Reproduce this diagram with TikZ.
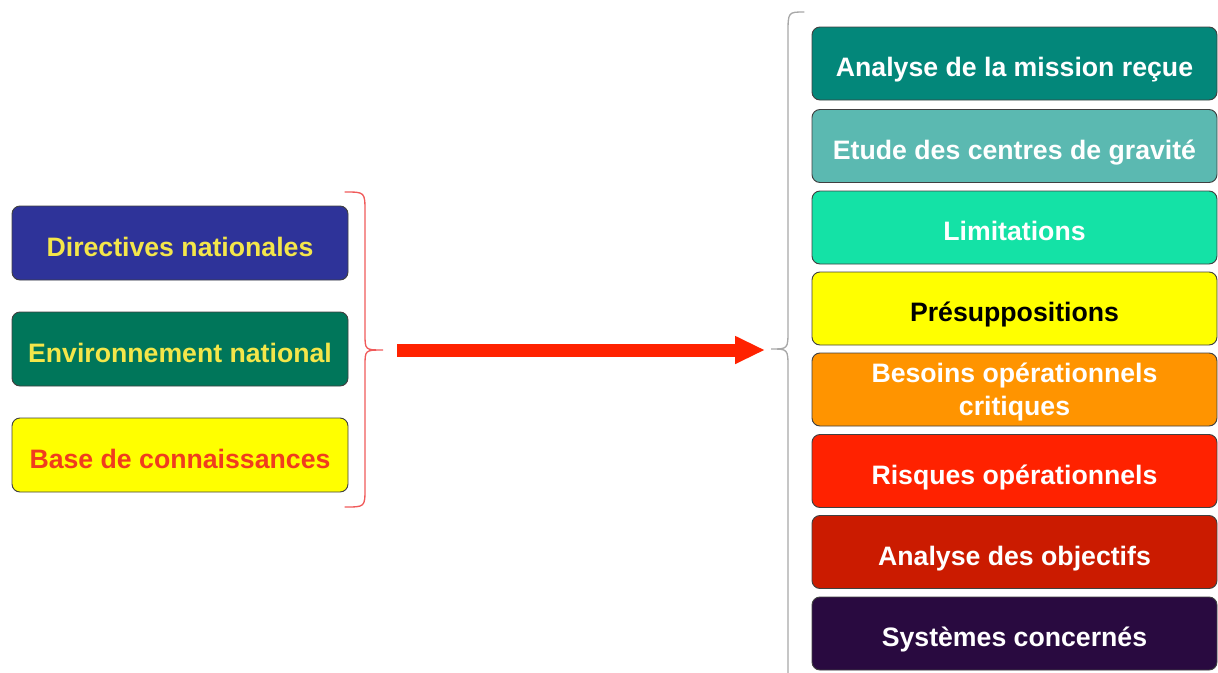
\documentclass[tikz,border=0pt]{standalone}
\usepackage{fontspec}
\setmainfont{Liberation Sans}
\usetikzlibrary{arrows.meta}

\definecolor{dirblue}{HTML}{2E3399}
\definecolor{envgreen}{HTML}{00765A}
\definecolor{baseyellow}{HTML}{FFFF00}
\definecolor{labyellow}{HTML}{F4E64A}
\definecolor{labred}{HTML}{F03C1E}
\definecolor{bracered}{HTML}{F05A5A}
\definecolor{bracegray}{HTML}{A8A8A8}
\definecolor{arrowred}{HTML}{FF2200}
\definecolor{cmission}{HTML}{03877A}
\definecolor{cgravite}{HTML}{5BB9B1}
\definecolor{climit}{HTML}{14E2A6}
\definecolor{cpresup}{HTML}{FFFF00}
\definecolor{cbesoin}{HTML}{FF9400}
\definecolor{crisque}{HTML}{FF2200}
\definecolor{cobjectif}{HTML}{CB1B00}
\definecolor{csysteme}{HTML}{290A40}

\tikzset{
  box/.style={draw=black!75, line width=0.7pt, rounded corners=6pt,
    align=center, inner sep=0pt, text height=20pt, text depth=0pt,
    font=\fontsize{20}{24.75}\selectfont\bfseries},
  twoline/.style={text height=0pt, text depth=11.2pt},
  leftbox/.style={box, minimum width=252pt, minimum height=55.5pt},
  rightbox/.style={box, minimum width=303.75pt, minimum height=54.75pt},
  brace/.style={line width=1pt, line cap=round}
}

\begin{document}
\begin{tikzpicture}[x=0.75pt,y=-0.75pt]
\useasboundingbox (0,0) rectangle (1218,672);
\clip (0,0) rectangle (1218,672);

% sources on the left
\node[leftbox, fill=dirblue, text=labyellow] (dir) at (180,243) {Directives nationales};
\node[leftbox, fill=envgreen, text=labyellow] (env) at (180,349) {Environnement national};
\node[leftbox, fill=baseyellow, text=labred] (base) at (180,455) {Base de connaissances};

% red brace grouping the sources
\coordinate (lbtop) at (345,192);
\coordinate (lbtip) at (383,350);
\coordinate (lbbot) at (345,507);
\draw[brace, bracered] (lbtop) .. controls (365,192) .. (365,212) -- (365,334)
  .. controls (365,350) .. (lbtip) .. controls (365,350) .. (365,366)
  -- (365,488) .. controls (365,507) .. (lbbot);

% main arrow
\coordinate (arrstart) at (397,350);
\coordinate (arrend) at (765,350);
\draw[arrowred, line width=9.75pt, -{Triangle[length=22.5pt,width=19.5pt]}] (arrstart) -- (arrend);

% gray brace grouping the analysis steps
\coordinate (rbtop) at (804,12);
\coordinate (rbtip) at (771,349);
\coordinate (rbbot) at (804,686);
\draw[brace, bracegray] (rbtop) .. controls (788,12) .. (788,34) -- (788,330)
  .. controls (788,349) .. (rbtip) .. controls (788,349) .. (788,368)
  -- (788,664) .. controls (788,686) .. (rbbot);

% analysis steps on the right
\node[rightbox, fill=cmission, text=white] (mission) at (1014.5,63.5) {Analyse de la mission reçue};
\node[rightbox, fill=cgravite, text=white] (gravite) at (1014.5,146) {Etude des centres de gravité};
\node[rightbox, fill=climit, text=white] (limit) at (1014.5,227.5) {Limitations};
\node[rightbox, fill=cpresup, text=black] (presup) at (1014.5,308.5) {Présuppositions};
\node[rightbox, twoline, fill=cbesoin, text=white] (besoin) at (1014.5,389.5)
  {\begin{tabular}[t]{@{}c@{}}Besoins opérationnels\\critiques\end{tabular}};
\node[rightbox, fill=crisque, text=white] (risque) at (1014.5,471) {Risques opérationnels};
\node[rightbox, fill=cobjectif, text=white] (objectif) at (1014.5,552) {Analyse des objectifs};
\node[rightbox, fill=csysteme, text=white] (systeme) at (1014.5,633.5) {Systèmes concernés};
\end{tikzpicture}
\end{document}
